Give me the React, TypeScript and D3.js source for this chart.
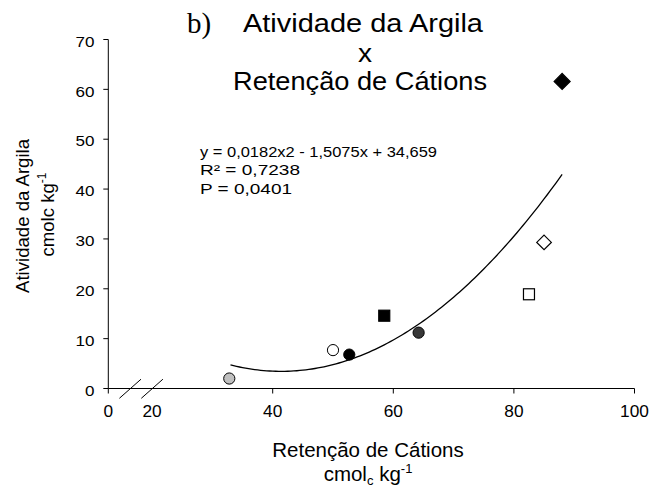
import React from "react";
import * as d3 from "d3";

// ---- data ----
const pointX = [32.8, 50.0, 52.7, 58.5, 64.2, 82.5, 85.0, 88.0];
const pointY = [2.0, 7.7, 6.8, 14.6, 11.2, 18.9, 29.3, 61.6];
const pointShape = ["circle", "circle", "circle", "square", "circle", "square", "diamond", "diamond"];
const pointFill = ["#c0c0c0", "#ffffff", "#000000", "#000000", "#383838", "#ffffff", "#ffffff", "#000000"];

const fitCoef = [0.0182, -1.5075, 34.659]; // a, b, c of the trendline
const fitRange = [33, 88];

const xTicks = [0, 20, 40, 60, 80, 100];
const xTickMarks = [0, 40, 60, 80, 100];
const yTicks = [0, 10, 20, 30, 40, 50, 60, 70];

const titleLines = ["Atividade da Argila", "x", "Retenção de Cátions"];
const eqLines = ["y = 0,0182x2 - 1,5075x + 34,659", "R² = 0,7238", "P = 0,0401"];
const eqWidths = [237, 100, 92];

const W = 661;
const H = 486;

export default function App() {
  // broken axis: 0 sits at the origin, then linear from 20 to 100
  const x = d3.scaleLinear().domain([0, 20, 100]).range([108.3, 152.1, 634.5]);
  const y = d3.scaleLinear().domain([0, 70]).range([388.5, 39.5]);

  const fitPts = d3.range(fitRange[0], fitRange[1] + 0.001, 0.5).map((v) => [
    v,
    fitCoef[0] * v * v + fitCoef[1] * v + fitCoef[2],
  ]);
  const line = d3
    .line<number[]>()
    .x((d) => x(d[0]))
    .y((d) => y(d[1]))
    .curve(d3.curveMonotoneX);

  const sans = "'Liberation Sans', Arial, sans-serif";
  const y0 = y(0);

  const marker = (i: number) => {
    const cx = x(pointX[i]);
    const cy = y(pointY[i]);
    const fill = pointFill[i];
    const stroke = "#000";
    if (pointShape[i] === "circle") {
      return <circle key={i} cx={cx} cy={cy} r={5.6} fill={fill} stroke={stroke} strokeWidth={1} />;
    }
    if (pointShape[i] === "square") {
      const s = 11;
      return <rect key={i} x={cx - s / 2} y={cy - s / 2} width={s} height={s} fill={fill} stroke={stroke} strokeWidth={1.2} />;
    }
    const r = fill === "#000000" ? 8 : 7.3;
    return (
      <path
        key={i}
        d={`M${cx},${cy - r}L${cx + r},${cy}L${cx},${cy + r}L${cx - r},${cy}Z`}
        fill={fill}
        stroke={stroke}
        strokeWidth={1.2}
      />
    );
  };

  const breakMarks = [(x(0) + x(20)) / 2, x(20)];

  return (
    <svg width={W} height={H} style={{ position: "absolute", left: 0, top: 0, background: "#fff" }} fontFamily={sans}>
      <rect width={W} height={H} fill="#fff" />
      {/* title */}
      <text x={187} y={33} fontFamily="'Liberation Serif', 'Times New Roman', serif" fontSize={29} fill="#000">
        b)
      </text>
      <text x={363} y={32.3} textAnchor="middle" fontSize={26} fill="#000" textLength={240} lengthAdjust="spacingAndGlyphs">
        {titleLines[0]}
      </text>
      <g transform="translate(365,61.5) scale(1.08,1)">
        <text x={0} y={0} textAnchor="middle" fontSize={26} fill="#000">
          {titleLines[1]}
        </text>
      </g>
      <text x={360} y={90} textAnchor="middle" fontSize={26} fill="#000" textLength={254} lengthAdjust="spacingAndGlyphs">
        {titleLines[2]}
      </text>

      {/* equation */}
      {eqLines.map((s, i) => (
        <text
          key={i}
          x={200}
          y={156.7 + i * 18.4}
          fontSize={15}
          fill="#000"
          textLength={eqWidths[i]}
          lengthAdjust="spacingAndGlyphs"
        >
          {s}
        </text>
      ))}

      {/* axes */}
      <line x1={x(0)} x2={x(100)} y1={y0} y2={y0} stroke="#000" strokeWidth={1} />
      <line x1={x(0)} x2={x(0)} y1={y(70)} y2={y0} stroke="#000" strokeWidth={1} />
      {xTickMarks.map((t) => (
        <line key={t} x1={x(t)} x2={x(t)} y1={y0} y2={y0 + 5} stroke="#000" strokeWidth={1} />
      ))}
      {yTicks.map((t) => (
        <line key={t} x1={x(0) - 5} x2={x(0)} y1={y(t)} y2={y(t)} stroke="#000" strokeWidth={1} />
      ))}
      {breakMarks.map((bx, i) => (
        <line key={i} x1={bx - 10.8} y1={y0 + 9.8} x2={bx + 10.8} y2={y0 - 9.3} stroke="#000" strokeWidth={1} />
      ))}

      {/* tick labels */}
      {xTicks.map((t) => (
        <g key={t} transform={`translate(${x(t)},416.7) scale(1.08,1)`}>
          <text textAnchor="middle" fontSize={16} fill="#000">
            {t}
          </text>
        </g>
      ))}
      {yTicks.map((t) => (
        <g key={t} transform={`translate(94.5,${y(t) + 7.2}) scale(1.1,1)`}>
          <text textAnchor="end" fontSize={15.5} fill="#000">
            {t}
          </text>
        </g>
      ))}

      {/* axis titles */}
      <text x={368} y={456.5} textAnchor="middle" fontSize={20.5} fill="#000">
        Retenção de Cátions
      </text>
      <text x={368} y={480.5} textAnchor="middle" fontSize={20.5} fill="#000">
        cmol
        <tspan fontSize={13} dy={4}>c</tspan>
        <tspan dy={-4}> kg</tspan>
        <tspan fontSize={13} dy={-8}>-1</tspan>
      </text>
      <g transform="translate(28.5,216) rotate(-90)">
        <text x={0} y={0} textAnchor="middle" fontSize={18.6} fill="#000">
          Atividade da Argila
        </text>
      </g>
      <g transform="translate(53.5,214.5) rotate(-90)">
        <text x={0} y={0} textAnchor="middle" fontSize={18.6} fill="#000">
          cmolc kg
          <tspan fontSize={12} dy={-8}>-1</tspan>
        </text>
      </g>

      {/* trendline */}
      <path d={line(fitPts) || ""} fill="none" stroke="#000" strokeWidth={1.3} />

      {/* points */}
      {pointX.map((_, i) => marker(i))}
    </svg>
  );
}
